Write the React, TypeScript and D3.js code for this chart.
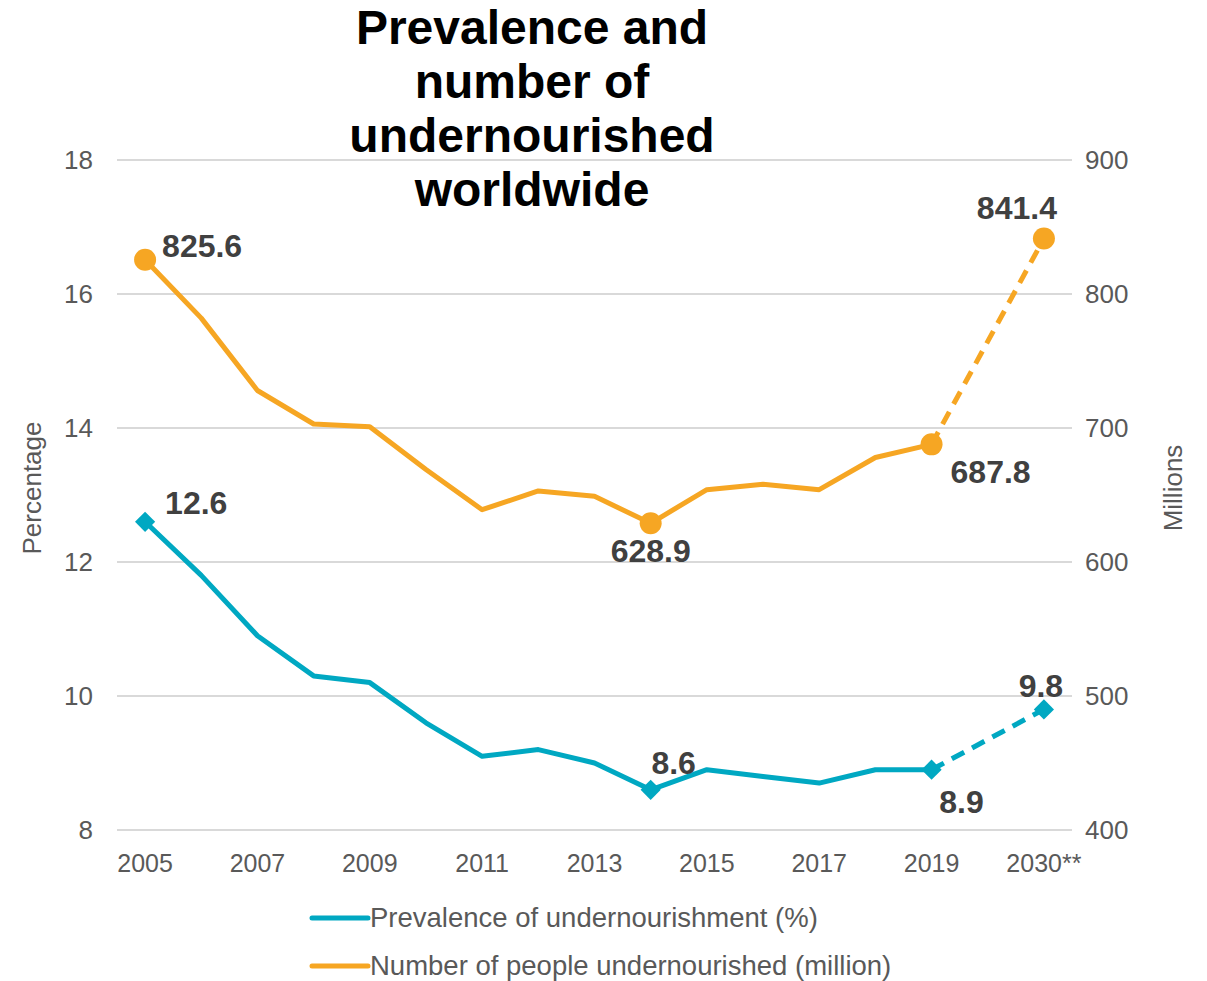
import React from "react";
import * as d3 from "d3";

const categories = ["2005","2006","2007","2008","2009","2010","2011","2012","2013","2014","2015","2016","2017","2018","2019","gap","2030**"];
const tickLabels = ["2005","2007","2009","2011","2013","2015","2017","2019","2030**"];
const prevalence: (number | null)[] = [12.6, 11.8, 10.9, 10.3, 10.2, 9.6, 9.1, 9.2, 9.0, 8.6, 8.9, 8.8, 8.7, 8.9, 8.9, null, 9.8];
const undernourished: (number | null)[] = [825.6, 782, 728, 703, 701, 669, 639, 653, 649, 628.9, 654, 658, 654, 678, 687.8, null, 841.4];
const leftTicks = [8, 10, 12, 14, 16, 18];
const rightTicks = [400, 500, 600, 700, 800, 900];
const markedCats = ["2005", "2014", "2019", "2030**"];
const titleLines = ["Prevalence and", "number of", "undernourished", "worldwide"];
const legendItems = ["Prevalence of undernourishment (%)", "Number of people undernourished (million)"];

const BLUE = "#00A8C2";
const ORANGE = "#F6A623";
const LABEL = "#404040";
const TICK = "#595959";

export default function App() {
  const W = 1207, H = 981;
  const x = d3.scalePoint<string>().domain(categories).range([117, 1072]).padding(0.5);
  const yL = d3.scaleLinear().domain([8, 18]).range([830, 160]);
  const yR = d3.scaleLinear().domain([400, 900]).range([830, 160]);

  const solidIdx = d3.range(0, 15);
  const lineL = d3.line<number>().x(i => x(categories[i])!).y(i => yL(prevalence[i]!));
  const lineR = d3.line<number>().x(i => x(categories[i])!).y(i => yR(undernourished[i]!));
  const dashIdx = [14, 16];

  const font = "'Liberation Sans', Arial, sans-serif";
  const diamond = d3.symbol().type(d3.symbolDiamond2).size(260)();

  const idx = (c: string) => categories.indexOf(c);

  const orangeLabels = [
    { c: "2005", dx: 17, dy: -3, anchor: "start" },
    { c: "2014", dx: 0, dy: 39, anchor: "middle" },
    { c: "2019", dx: 19, dy: 39, anchor: "start" },
    { c: "2030**", dx: -27, dy: -20, anchor: "middle" },
  ];
  const blueLabels = [
    { c: "2005", dx: 20, dy: -8, anchor: "start" },
    { c: "2014", dx: 23, dy: -16, anchor: "middle" },
    { c: "2019", dx: 30, dy: 43, anchor: "middle" },
    { c: "2030**", dx: -3, dy: -12, anchor: "middle" },
  ];

  return (
    <svg width={W} height={H} style={{ position: "absolute", left: 0, top: 0, background: "#fff" }} fontFamily={font}>
      {leftTicks.map(t => (
        <line key={"g" + t} x1={117} x2={1072} y1={yL(t)} y2={yL(t)} stroke="#d9d9d9" strokeWidth={2} />
      ))}
      {leftTicks.map(t => (
        <text key={"l" + t} x={93} y={yL(t) + 9} textAnchor="end" fontSize={26} fill={TICK}>{t}</text>
      ))}
      {rightTicks.map(t => (
        <text key={"r" + t} x={1085} y={yR(t) + 9} textAnchor="start" fontSize={26} fill={TICK}>{t}</text>
      ))}
      {tickLabels.map(t => (
        <text key={"x" + t} x={x(t)!} y={872} textAnchor="middle" fontSize={25} fill={TICK}>{t}</text>
      ))}
      <text transform={`translate(41,488) rotate(-90)`} textAnchor="middle" fontSize={26} fill={TICK}>Percentage</text>
      <text transform={`translate(1182,488) rotate(-90)`} textAnchor="middle" fontSize={26} fill={TICK}>Millions</text>

      <path d={lineR(solidIdx)!} fill="none" stroke={ORANGE} strokeWidth={5} strokeLinejoin="round" />
      <path d={lineR(dashIdx)!} fill="none" stroke={ORANGE} strokeWidth={5} strokeDasharray="14 9" />
      <path d={lineL(solidIdx)!} fill="none" stroke={BLUE} strokeWidth={5} strokeLinejoin="round" />
      <path d={lineL(dashIdx)!} fill="none" stroke={BLUE} strokeWidth={5} strokeDasharray="14 9" />

      {markedCats.map(c => (
        <circle key={"o" + c} cx={x(c)!} cy={yR(undernourished[idx(c)]!)} r={11} fill={ORANGE} />
      ))}
      {markedCats.map(c => (
        <path key={"b" + c} d={diamond!} transform={`translate(${x(c)},${yL(prevalence[idx(c)]!)})`} fill={BLUE} />
      ))}

      {orangeLabels.map(l => (
        <text key={"ol" + l.c} x={x(l.c)! + l.dx} y={yR(undernourished[idx(l.c)]!) + l.dy} textAnchor={l.anchor as any}
          fontSize={32} fontWeight="bold" fill={LABEL}>{undernourished[idx(l.c)]!.toFixed(1)}</text>
      ))}
      {blueLabels.map(l => (
        <text key={"bl" + l.c} x={x(l.c)! + l.dx} y={yL(prevalence[idx(l.c)]!) + l.dy} textAnchor={l.anchor as any}
          fontSize={32} fontWeight="bold" fill={LABEL}>{prevalence[idx(l.c)]!.toFixed(1)}</text>
      ))}

      {titleLines.map((t, i) => (
        <text key={"t" + i} x={532} y={44 + i * 54} textAnchor="middle" fontSize={48} fontWeight="bold" fill="#000">{t}</text>
      ))}

      {legendItems.map((t, i) => (
        <g key={"lg" + i} transform={`translate(312,${918 + i * 48})`}>
          <line x1={0} x2={56} y1={0} y2={0} stroke={i === 0 ? BLUE : ORANGE} strokeWidth={5} strokeLinecap="round" />
          <text x={58} y={9} fontSize={27.5} fill={TICK}>{t}</text>
        </g>
      ))}
    </svg>
  );
}
